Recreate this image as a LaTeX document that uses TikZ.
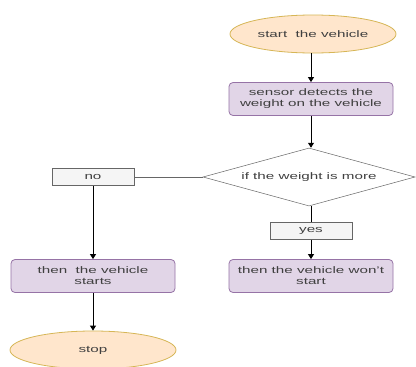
\documentclass[tikz,border=0pt]{standalone}
\usepackage{fontspec}
\setmainfont{Liberation Sans}[FakeStretch=1.6]
\usetikzlibrary{shapes.geometric,arrows.meta}
\definecolor{termfill}{HTML}{FFE6CC}
\definecolor{termdraw}{HTML}{D6B656}
\definecolor{procfill}{HTML}{E1D5E7}
\definecolor{procdraw}{HTML}{9673A6}
\definecolor{lblfill}{HTML}{F5F5F5}
\definecolor{lbldraw}{HTML}{666666}
\begin{document}
\begin{tikzpicture}[x=1pt,y=-1pt,
  every node/.style={font=\fontsize{9.5}{11}\selectfont, text=black!75, align=center, inner sep=0pt},
  term/.style={ellipse, draw=termdraw, fill=termfill, line width=0.8pt, minimum width=166pt, minimum height=38pt},
  proc/.style={rectangle, rounded corners=4pt, draw=procdraw, fill=procfill, line width=0.8pt, minimum width=164pt, minimum height=33pt},
  lbl/.style={rectangle, draw=lbldraw, fill=lblfill, line width=0.5pt, minimum width=82pt, minimum height=17pt},
  dec/.style={diamond, draw=lbldraw, fill=white, line width=0.5pt, minimum width=212pt, minimum height=58pt, aspect=3.6},
  conn/.style={draw=black, line width=0.9pt},
  arr/.style={conn, -{Triangle[length=5pt,width=6pt]}}
]
\useasboundingbox (0,0) rectangle (416,367);
\fill[white] (0,0) rectangle (416,367);
\node[term] (start) at (313,34) {start\ \ the vehicle};
\node[proc] (sensor) at (311,99) {sensor detects the\\weight on the vehicle};
\node[dec] (dec) at (309,177) {if the weight is more};
\node[lbl] (no) at (93,177) {no};
\node[lbl] (yes) at (311,231) {yes};
\node[proc] (starts) at (93,276) {then\ \ the vehicle\\starts};
\node[proc] (wont) at (311,276) {then the vehicle won't\\start};
\node[term] (stop) at (93,350) {stop};
\draw[arr] (start.south -| sensor.north) -- (sensor.north);
\draw[arr] (sensor.south) -- (sensor.south |- dec.north);
\draw[draw=lbldraw, line width=0.5pt] (dec.west) -- (no.east);
\draw[arr] (no.south) -- (starts.north);
\draw[conn] (dec.south -| yes.north) -- (yes.north);
\draw[arr] (yes.south) -- (wont.north);
\draw[arr] (starts.south) -- (stop.north);
\end{tikzpicture}
\end{document}
